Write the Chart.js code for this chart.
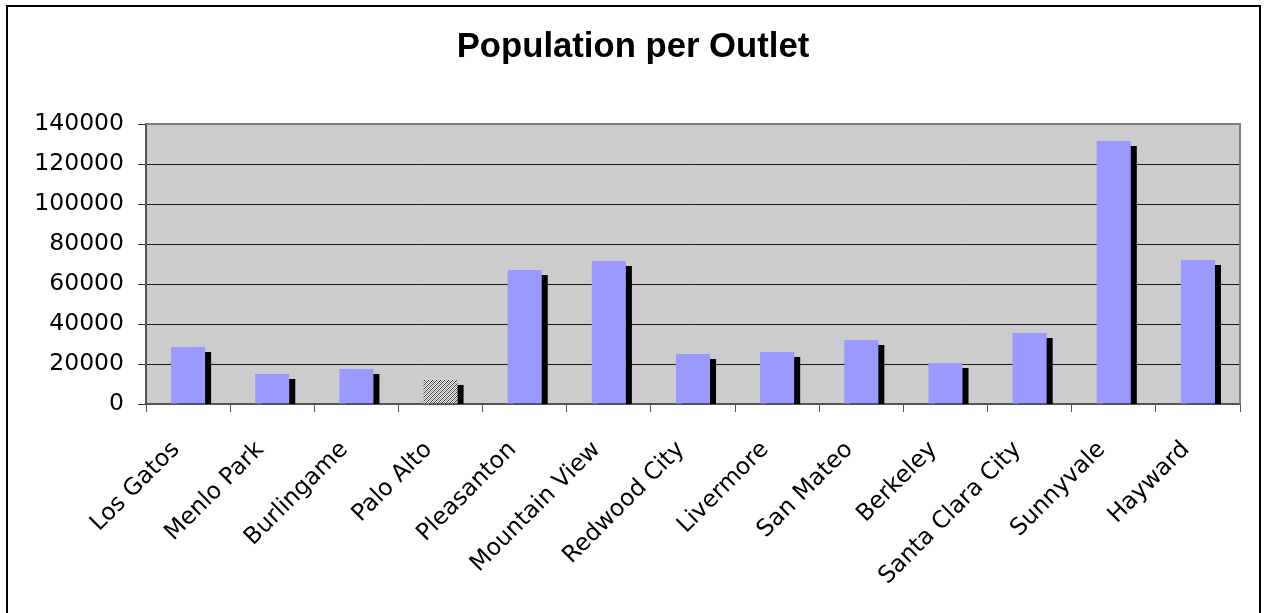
<!DOCTYPE html>
<html>
<head>
<meta charset="utf-8">
<title>Population per Outlet</title>
<script src="https://cdn.jsdelivr.net/npm/chart.js@4.4.1/dist/chart.umd.min.js"></script>
<style>
  html, body { margin: 0; padding: 0; background: #ffffff; }
  #wrap { width: 1266px; height: 613px; position: relative; overflow: hidden; }
  canvas { display: block; }
</style>
</head>
<body>
<div id="wrap"><canvas id="chart" width="1266" height="613"></canvas></div>
<script>
// Cities along the category axis
const cities = [
  'Los Gatos', 'Menlo Park', 'Burlingame', 'Palo Alto', 'Pleasanton',
  'Mountain View', 'Redwood City', 'Livermore', 'San Mateo', 'Berkeley',
  'Santa Clara City', 'Sunnyvale', 'Hayward'
];

// Residents served by each outlet
const populationPerOutlet = [
  28500, 15000, 17500, 12000, 67000,
  71500, 25000, 26000, 32000, 20500,
  35500, 131500, 72000
];

// Value axis ticks
const yTicks = [0, 20000, 40000, 60000, 80000, 100000, 120000, 140000];

// City drawn with the hatched fill
const highlightedCity = 'Palo Alto';

const TICK_FONT = { family: 'DejaVu Sans', size: 23.5 };

// Fine diagonal hatch used for the highlighted bar
function makeHatch() {
  const c = document.createElement('canvas');
  c.width = 4; c.height = 4;
  const g = c.getContext('2d');
  g.fillStyle = '#eeeeee';
  g.fillRect(0, 0, 4, 4);
  for (let i = 0; i < 4; i++) {
    g.fillStyle = '#3a3a3a';
    g.fillRect(i, (4 - i) % 4, 1, 1);
    g.fillStyle = '#9a9a9a';
    g.fillRect(i, (6 - i) % 4, 1, 1);
  }
  return g.createPattern(c, 'repeat');
}

const canvas = document.getElementById('chart');
const ctx = canvas.getContext('2d');
const hatch = makeHatch();
const barColors = cities.map(c => c === highlightedCity ? hatch : '#9999ff');

// Grey plot area, outer frame and the drop shadow behind each bar
const decorations = {
  id: 'decorations',
  afterLayout(chart) {
    // centre the title across the whole canvas rather than the padded box
    const t = chart.titleBlock;
    if (t) { t.left = 0; t.right = chart.width; t.width = chart.width; }
  },
  beforeDatasetsDraw(chart) {
    const { ctx } = chart;
    ctx.save();
    ctx.shadowColor = '#000000';
    ctx.shadowBlur = 0;
    ctx.shadowOffsetX = 6;
    ctx.shadowOffsetY = 5;
  },
  afterDatasetsDraw(chart) {
    const { ctx, chartArea: a } = chart;
    ctx.restore();
    ctx.save();
    ctx.strokeStyle = '#808080';
    ctx.lineWidth = 2;
    ctx.beginPath();
    ctx.moveTo(a.left, a.top);
    ctx.lineTo(a.right, a.top);
    ctx.lineTo(a.right, a.bottom);
    ctx.stroke();
    ctx.restore();
  },
  beforeDraw(chart) {
    const { ctx, chartArea: a } = chart;
    ctx.save();
    ctx.fillStyle = '#ffffff';
    ctx.fillRect(0, 0, chart.width, chart.height);
    ctx.fillStyle = '#cccccc';
    ctx.fillRect(a.left, a.top, a.right - a.left, a.bottom - a.top);
    ctx.restore();
  },
  afterDraw(chart) {
    const { ctx } = chart;
    ctx.save();
    ctx.strokeStyle = '#000000';
    ctx.lineWidth = 2;
    ctx.strokeRect(7, 6, 1253, 700);
    ctx.restore();
  }
};

new Chart(ctx, {
  type: 'bar',
  data: {
    labels: cities,
    datasets: [{
      label: 'Population per Outlet',
      data: populationPerOutlet,
      backgroundColor: barColors,
      borderWidth: 0,
      barPercentage: 0.405,
      categoryPercentage: 1.0,
      clip: 0
    }]
  },
  options: {
    responsive: false,
    animation: false,
    devicePixelRatio: 1,
    layout: { padding: { top: 0, right: 26, bottom: 0, left: 0 } },
    plugins: {
      legend: { display: false },
      tooltip: { enabled: false },
      title: {
        display: true,
        text: 'Population per Outlet',
        color: '#000000',
        font: { family: 'Liberation Sans', size: 34.7, weight: 'bold', lineHeight: 1.2 },
        padding: { top: 27, bottom: 55.4 }
      }
    },
    scales: {
      x: {
        grid: {
          display: true,
          offset: true,
          drawOnChartArea: false,
          drawTicks: true,
          tickLength: 8,
          color: '#555555',
          lineWidth: 1
        },
        border: { display: true, color: '#555555', width: 2 },
        ticks: {
          color: '#000000',
          font: TICK_FONT,
          maxRotation: 45,
          minRotation: 45,
          autoSkip: false,
          padding: 24,
          labelOffset: -12
        },
        afterFit(scale) { scale.height = 613 - 404; }
      },
      y: {
        min: 0,
        max: 140000,
        afterBuildTicks(scale) { scale.ticks = yTicks.map(v => ({ value: v })); },
        grid: {
          color: ctx => ctx.tick && ctx.tick.value === 140000 ? '#808080' : '#1a1a1a',
          lineWidth: 1,
          tickLength: 8,
          tickColor: '#333333',
          drawTicks: true
        },
        border: { display: true, color: '#555555', width: 2 },
        ticks: {
          color: '#000000',
          font: TICK_FONT,
          padding: 14,
          callback: v => String(v)
        },
        afterFit(scale) { scale.width = 146; }
      }
    }
  },
  plugins: [decorations]
});
</script>
</body>
</html>
